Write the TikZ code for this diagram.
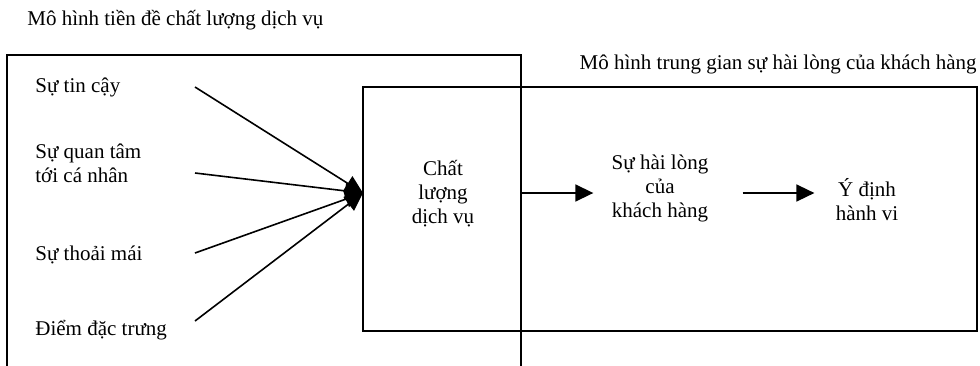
\documentclass[tikz,border=0pt]{standalone}
\usepackage{fontspec}
\setmainfont{Liberation Serif}
\usepackage{tikz}
\usetikzlibrary{arrows.meta}

\tikzset{
  txt/.style={inner sep=0pt, font=\fontsize{10.5}{12}\selectfont},
  ctxt/.style={txt, align=center},
  frame/.style={line width=1pt},
  arr/.style={line width=0.8pt, -{Triangle[length=9pt,width=8.5pt]}}
}

\begin{document}
\begin{tikzpicture}[x=0.5pt, y=-0.5pt]
  \useasboundingbox (0,0) rectangle (980,365);

  % the two frames
  \draw[frame] (7,370) -- (7,55) -- (521,55) -- (521,370);
  \draw[frame] (363,87) rectangle (977,331);

  \node[txt, anchor=west] (ttlpre) at (27,20) {Mô hình tiền đề chất lượng dịch vụ};
  \node[txt, anchor=east] (ttlmed) at (977,64) {Mô hình trung gian sự hài lòng của khách hàng};

	% antecedents
	\node[txt, anchor=west] (ant1) at (35,87) {Sự tin cậy};
	\node[txt, anchor=west, align=left] (ant2) at (35,163) {Sự quan tâm\\tới cá nhân};
	\node[txt, anchor=west] (ant3) at (35,255) {Sự thoải mái};
	\node[txt, anchor=west] (ant4) at (35,330) {Điểm đặc trưng};

	\node[ctxt] (qual) at (443,194) {Chất\\lượng\\dịch vụ};
	\node[ctxt] (sat) at (660,188) {Sự hài lòng\\của\\khách hàng};
	\node[ctxt] (intent) at (867,200) {Ý định\\hành vi};

	\coordinate (hub) at (363,193);
	\coordinate (out) at (521,193);

	\foreach \n/\y in {1/87,2/173,3/253,4/321}{
	   \coordinate (src\n) at (195,\y);
	   \draw[arr] (src\n) -- (hub);
	}

	\draw[arr, shorten >=9pt] (out) -- (out -| sat.west);
	\draw[arr, shorten <=17pt, shorten >=10.5pt] (out -| sat.east) -- (out -| intent.west);
\end{tikzpicture}
\end{document}
